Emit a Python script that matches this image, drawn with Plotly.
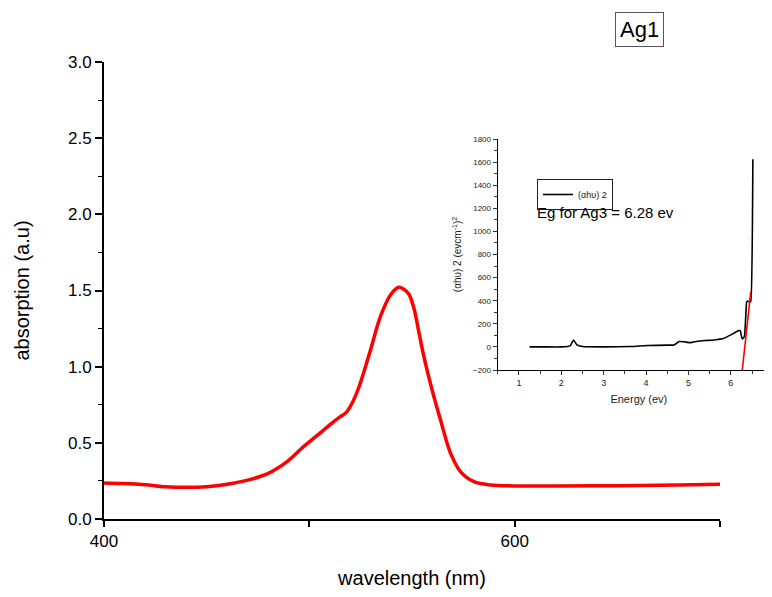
import plotly.graph_objects as go

# Main absorption spectrum
wavelength = [400, 410, 420, 430, 440, 450, 460, 470, 480, 489, 497.2, 507, 511, 515.1, 518,
              521, 524, 529.8, 534.6, 539.5, 543.6, 546, 548.5, 551, 553.3, 555.8, 559.8,
              563.9, 568.8, 573.7, 580.2, 588.3, 600, 620, 650, 680, 700]
absorption = [0.237, 0.233, 0.225, 0.212, 0.208, 0.212, 0.228, 0.255, 0.300, 0.375, 0.475,
              0.584, 0.63, 0.672, 0.70, 0.765, 0.86, 1.11, 1.328, 1.471, 1.521, 1.508, 1.475,
              1.38, 1.23, 1.066, 0.847, 0.65, 0.431, 0.31, 0.245, 0.223, 0.217, 0.216,
              0.219, 0.223, 0.228]

# Inset Tauc plot
energy = [1.25, 1.6, 2.0, 2.21, 2.29, 2.37, 2.5, 3.0, 3.64, 4.03, 4.5, 4.66, 4.78, 4.9, 5.05,
          5.21, 5.4, 5.6, 5.84, 6.0, 6.1, 6.18, 6.22, 6.27, 6.32, 6.37, 6.39, 6.45, 6.47, 6.52]
tauc = [0, 0, 0, 9, 60, 17, 3, 0, 3, 12, 15, 17, 46, 44, 37, 49, 55, 60, 75, 104, 125, 141,
        140, 69, 90, 380, 398, 390, 392, 1624]
fit_energy = [6.27, 6.47]
fit_tauc = [-200, 478]

W, H = 772, 597
OFF = 8  # page body margin compensation
FONT = "Liberation Sans, Arial, sans-serif"

fig = go.Figure()
fig.add_trace(go.Scatter(x=wavelength, y=absorption, mode="lines",
                         line=dict(color="#ff0000", width=3.5, shape="spline", smoothing=1.0),
                         showlegend=False, xaxis="x", yaxis="y"))
fig.add_trace(go.Scatter(x=energy, y=tauc, mode="lines", name="(αhυ) 2",
                         line=dict(color="black", width=1.6, shape="spline", smoothing=0.4),
                         showlegend=True, xaxis="x2", yaxis="y2"))
fig.add_trace(go.Scatter(x=fit_energy, y=fit_tauc, mode="lines",
                         line=dict(color="#ff0000", width=1.6),
                         showlegend=False, xaxis="x2", yaxis="y2"))

def px(x):
    return (x - OFF) / W

def py(y):
    return 1 - (y - OFF) / H

fig.update_layout(
    width=W, height=H,
    margin=dict(l=0, r=0, t=0, b=0, autoexpand=False),
    paper_bgcolor="white", plot_bgcolor="white",
    font=dict(family=FONT, color="black"),
    xaxis=dict(domain=[px(104), px(720)], range=[400, 700], anchor="y", automargin=False,
               tickvals=[400, 600], ticktext=["400", "600"],
               ticks="outside", ticklen=6, tickwidth=1.5, tickcolor="black",
               minor=dict(dtick=100, tick0=400, ticks="outside", ticklen=6, tickwidth=1.5, tickcolor="black"),
               showline=True, linecolor="black", linewidth=1.8, showgrid=False, zeroline=False,
               tickfont=dict(size=17, family=FONT),
               title=dict(text="wavelength (nm)", font=dict(size=20, family=FONT), standoff=21)),
    yaxis=dict(domain=[py(519), py(62)], range=[0, 3], anchor="x", automargin=False,
               tickvals=[0, 0.5, 1, 1.5, 2, 2.5, 3],
               ticktext=["0.0", "0.5", "1.0", "1.5", "2.0", "2.5", "3.0"],
               ticks="outside", ticklen=7, tickwidth=1.5, tickcolor="black",
               minor=dict(dtick=0.25, tick0=0, ticks="outside", ticklen=4, tickwidth=1.2, tickcolor="black"),
               showline=True, linecolor="black", linewidth=1.8, showgrid=False, zeroline=False,
               tickfont=dict(size=17, family=FONT),
               title=dict(text="absorption (a.u)", font=dict(size=20, family=FONT), standoff=33)),
    xaxis2=dict(domain=[px(497.7), 1.0], range=[0.5, 7.16], anchor="y2", automargin=False,
                tickvals=[1, 2, 3, 4, 5, 6],
                ticks="outside", ticklen=4, tickwidth=1, tickcolor="#333",
                minor=dict(dtick=0.5, tick0=0, ticks="outside", ticklen=2.5, tickwidth=1, tickcolor="#333"),
                showline=True, linecolor="black", linewidth=1.2, showgrid=False, zeroline=False,
                tickfont=dict(size=9, family=FONT, color="#222"),
                title=dict(text="Energy (ev)", font=dict(size=11, family=FONT, color="#222"), standoff=8)),
    yaxis2=dict(domain=[py(370), py(139)], range=[-200, 1800], anchor="x2", automargin=False,
                tickvals=list(range(-200, 1801, 200)),
                ticks="outside", ticklen=4, tickwidth=1, tickcolor="#333",
                minor=dict(dtick=100, tick0=0, ticks="outside", ticklen=2.5, tickwidth=1, tickcolor="#333"),
                showline=True, linecolor="black", linewidth=1.2, showgrid=False, zeroline=False,
                tickfont=dict(size=8, family=FONT, color="#222"),
                title=dict(text="(αhυ) 2 (evcm<sup>-1</sup>)<sup>2</sup>",
                           font=dict(size=10, family=FONT, color="#222"), standoff=9)),
    legend=dict(x=px(537), y=py(179), xanchor="left", yanchor="top",
                bordercolor="#222", borderwidth=1, bgcolor="rgba(255,255,255,0)",
                font=dict(size=9, family=FONT, color="#222"),
                itemwidth=30, tracegroupgap=0),
    annotations=[
        dict(text="Eg for Ag3 = 6.28 ev", x=px(535), y=py(213), xref="paper", yref="paper",
             xanchor="left", yanchor="middle", showarrow=False,
             font=dict(size=15, family=FONT, color="black")),
        dict(text="Ag1", x=px(639.5), y=py(29), xref="paper", yref="paper",
             xanchor="center", yanchor="middle", showarrow=False,
             bordercolor="#555", borderwidth=1, borderpad=4,
             font=dict(size=22, family=FONT, color="black")),
    ],
)

fig.write_html("out.html")
